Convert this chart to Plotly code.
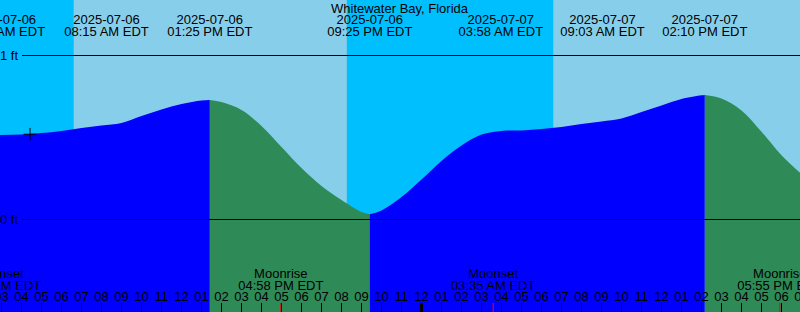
import plotly.graph_objects as go

# ---------------- data ----------------
station = "Whitewater Bay, Florida"

# hours since 2025-07-06 00:00 EDT, water level in ft
tide_times = [2, 3, 4, 5, 6, 7, 8, 9, 10, 11, 12, 13, 13.4167, 14, 15, 16, 17, 18, 19, 20,
              21, 21.4167, 22, 23, 24, 25, 26, 27, 28, 29, 30, 31, 32, 33, 34, 35, 36, 37,
              38, 38.1667, 39, 40, 41, 42, 43]
tide_heights = [0.509, 0.515, 0.518, 0.527, 0.540, 0.558, 0.573, 0.588, 0.631, 0.671, 0.704,
                0.725, 0.729, 0.716, 0.668, 0.570, 0.442, 0.314, 0.204, 0.119,
                0.046, 0.032, 0.055, 0.137, 0.244, 0.357, 0.451, 0.518, 0.540, 0.543, 0.552,
                0.564, 0.582, 0.598, 0.616, 0.655, 0.695, 0.735,
                0.757, 0.759, 0.738, 0.665, 0.535, 0.392, 0.277]

# turning points of the tide (flood/ebb changes)
turn_times = [13.4167, 21.4167, 38.1667]

# tide events printed at the top
event_times = [3.0667, 8.25, 13.4167, 21.4167, 27.9667, 33.05, 38.1667]
event_dates = ["2025-07-06", "2025-07-06", "2025-07-06", "2025-07-06",
               "2025-07-07", "2025-07-07", "2025-07-07"]
event_clock = ["03:04 AM EDT", "08:15 AM EDT", "01:25 PM EDT", "09:25 PM EDT",
               "03:58 AM EDT", "09:03 AM EDT", "02:10 PM EDT"]

# sun: sunrise, sunset, sunrise
sun_times = [6.6167, 20.2667, 30.6]

# moon events
moon_times = [2.875, 16.9667, 27.5833, 41.9167]
moon_names = ["Moonset", "Moonrise", "Moonset", "Moonrise"]
moon_clock = ["02:52 AM EDT", "04:58 PM EDT", "03:35 AM EDT", "05:55 PM EDT"]

# hour ticks along the bottom
hour_ticks = list(range(3, 44))
hour_labels = ["03", "04", "05", "06", "07", "08", "09", "10", "11", "12", "01", "02",
               "03", "04", "05", "06", "07", "08", "09", "10", "11", "12", "01", "02",
               "03", "04", "05", "06", "07", "08", "09", "10", "11", "12", "01", "02",
               "03", "04", "05", "06", "07"]
midnights = [24]

# current-time mark
now_time = [4.425]
now_height = [0.52]

# ---------------- styling ----------------
FONT = "Liberation Sans"
DAY, NIGHT = "#87CEEB", "#00BFFF"
FLOOD, EBB = "#0000FF", "#2E8B57"
X0, X1 = 2.925, 42.925
Y0, Y1 = -0.564, 1.3384
BASE = -0.6

fig = go.Figure()

# water segments: split at turning points
bounds = [tide_times[0]] + turn_times + [tide_times[-1]]
colors = [FLOOD, EBB, FLOOD, EBB]
for i in range(len(bounds) - 1):
    a, b = bounds[i], bounds[i + 1]
    xs = [t for t in tide_times if a <= t <= b]
    ys = [h for t, h in zip(tide_times, tide_heights) if a <= t <= b]
    fig.add_trace(go.Scatter(x=[a, b], y=[BASE, BASE], mode="lines",
                             line=dict(width=0), hoverinfo="skip"))
    fig.add_trace(go.Scatter(x=xs, y=ys, mode="lines", fill="tonexty",
                             fillcolor=colors[i],
                             line=dict(width=0, shape="spline", color=colors[i]),
                             hoverinfo="skip"))

# current-time cross
fig.add_trace(go.Scatter(x=now_time, y=now_height, mode="markers",
                         marker=dict(symbol="cross-thin", size=9,
                                     line=dict(width=1, color="black")),
                         hoverinfo="skip"))

txt = dict(family=FONT, size=13, color="black")
# top event labels
fig.add_trace(go.Scatter(x=event_times, y=[21] * len(event_times), yaxis="y2",
                         mode="text", text=event_dates, textfont=txt,
                         textposition="middle center", hoverinfo="skip"))
fig.add_trace(go.Scatter(x=event_times, y=[32.5] * len(event_times), yaxis="y2",
                         mode="text", text=event_clock, textfont=txt,
                         textposition="middle center", hoverinfo="skip"))
# moon labels
fig.add_trace(go.Scatter(x=moon_times, y=[274.5] * len(moon_times), yaxis="y2",
                         mode="text", text=moon_names, textfont=txt,
                         textposition="middle center", hoverinfo="skip"))
fig.add_trace(go.Scatter(x=moon_times, y=[286.5] * len(moon_times), yaxis="y2",
                         mode="text", text=moon_clock, textfont=txt,
                         textposition="middle center", hoverinfo="skip"))
# hour labels
fig.add_trace(go.Scatter(x=hour_ticks, y=[298] * len(hour_ticks), yaxis="y2",
                         mode="text", text=hour_labels, textfont=txt,
                         textposition="middle center", hoverinfo="skip"))

shapes = []
# sky background (night / day)
sky_edges = [X0 - 1] + sun_times + [X1 + 1]
sky_cols = [NIGHT, DAY, NIGHT, DAY]
for i in range(len(sky_edges) - 1):
    shapes.append(dict(type="rect", xref="x", yref="paper", x0=sky_edges[i],
                       x1=sky_edges[i + 1], y0=0, y1=1, fillcolor=sky_cols[i],
                       line=dict(width=0), layer="below"))
# 0 ft / 1 ft lines
for lvl in [0, 1]:
    shapes.append(dict(type="line", xref="paper", yref="y", x0=22 / 800, x1=1,
                       y0=lvl, y1=lvl, line=dict(color="black", width=1),
                       layer="above"))
# hour ticks
for t in hour_ticks:
    w = 3 if t in midnights else 1
    shapes.append(dict(type="line", xref="x", yref="paper", x0=t, x1=t,
                       y0=0, y1=9 / 312, line=dict(color="black", width=w),
                       layer="above"))
# moon event ticks
for t in moon_times:
    shapes.append(dict(type="line", xref="x", yref="paper", x0=t, x1=t,
                       y0=0, y1=9 / 312, line=dict(color="red", width=1),
                       layer="above"))

annotations = [
    dict(text=station, xref="paper", yref="paper", x=0.5, y=1 - 8.5 / 312,
         xanchor="center", yanchor="middle", showarrow=False, font=txt),
    dict(text="1 ft", xref="paper", yref="y", x=20 / 800, y=1,
         xanchor="right", yanchor="middle", showarrow=False, font=txt),
    dict(text="0 ft", xref="paper", yref="y", x=20 / 800, y=0,
         xanchor="right", yanchor="middle", showarrow=False, font=txt),
]

fig.update_layout(
    width=800, height=312,
    margin=dict(l=0, r=0, t=0, b=0, pad=0),
    paper_bgcolor=DAY, plot_bgcolor=DAY,
    showlegend=False,
    xaxis=dict(range=[X0, X1], visible=False, fixedrange=True),
    yaxis=dict(range=[Y0, Y1], visible=False, fixedrange=True),
    yaxis2=dict(range=[312, 0], visible=False, overlaying="y", fixedrange=True),
    shapes=shapes,
    annotations=annotations,
    font=dict(family=FONT, size=13, color="black"),
)

fig.write_html("out.html")
